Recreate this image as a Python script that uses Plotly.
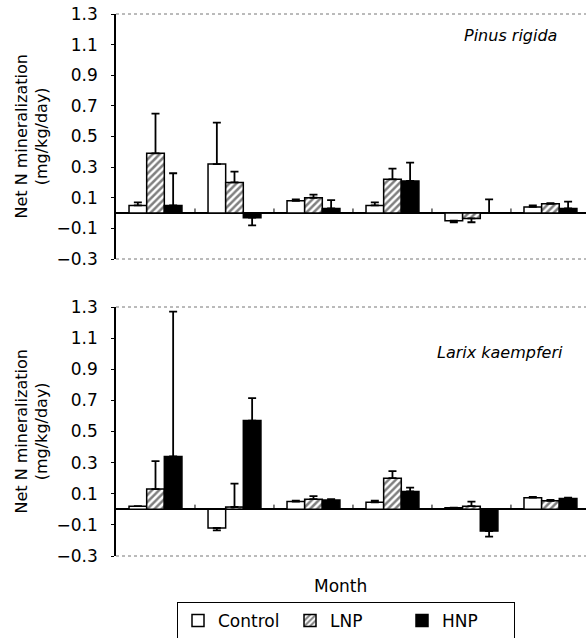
import plotly.graph_objects as go

months = [1, 2, 3, 4, 5, 6]
series = ["Control", "LNP", "HNP"]

# Pinus rigida (top panel)
pinus_control = [0.05, 0.32, 0.08, 0.05, -0.05, 0.04]
pinus_control_err = [0.02, 0.27, 0.01, 0.02, 0.01, 0.01]
pinus_lnp = [0.39, 0.20, 0.10, 0.22, -0.035, 0.06]
pinus_lnp_err = [0.26, 0.07, 0.02, 0.07, 0.025, 0.005]
pinus_hnp = [0.05, -0.03, 0.03, 0.21, 0.0, 0.03]
pinus_hnp_err = [0.21, 0.05, 0.055, 0.12, 0.09, 0.045]

# Larix kaempferi (bottom panel)
larix_control = [0.02, -0.12, 0.05, 0.045, 0.01, 0.075]
larix_control_err = [0.0, 0.015, 0.005, 0.01, 0.0, 0.005]
larix_lnp = [0.13, 0.015, 0.065, 0.20, 0.02, 0.055]
larix_lnp_err = [0.18, 0.15, 0.02, 0.045, 0.03, 0.005]
larix_hnp = [0.34, 0.57, 0.06, 0.115, -0.14, 0.07]
larix_hnp_err = [0.93, 0.145, 0.005, 0.025, 0.035, 0.005]

y_ticks = [-0.3, -0.1, 0.1, 0.3, 0.5, 0.7, 0.9, 1.1, 1.3]

FONT = "DejaVu Sans"
W, H = 586, 638

styles = {
    "Control": dict(color="white", pattern=None),
    "LNP": dict(color="white", pattern=dict(shape="/", fgcolor="black", bgcolor="white", size=5, solidity=0.5)),
    "HNP": dict(color="black", pattern=None),
}

panels = [
    ("x", "y", [pinus_control, pinus_lnp, pinus_hnp],
     [pinus_control_err, pinus_lnp_err, pinus_hnp_err]),
    ("x2", "y2", [larix_control, larix_lnp, larix_hnp],
     [larix_control_err, larix_lnp_err, larix_hnp_err]),
]

fig = go.Figure()
for pi, (xa, ya, vals, errs) in enumerate(panels):
    for name, v, e in zip(series, vals, errs):
        up = [ee if vv >= 0 else 0 for vv, ee in zip(v, e)]
        dn = [ee if vv < 0 else 0 for vv, ee in zip(v, e)]
        st = styles[name]
        marker = dict(color=st["color"], line=dict(color="black", width=1.5))
        if st["pattern"]:
            marker["pattern"] = st["pattern"]
        fig.add_trace(go.Bar(
            x=months, y=v, name=name, xaxis=xa, yaxis=ya,
            marker=marker, showlegend=(pi == 0), legendgroup=name,
            error_y=dict(type="data", symmetric=False, array=up, arrayminus=dn,
                         color="black", thickness=1.8, width=4),
        ))

x0 = 116 / W
top_dom = [(H - 259) / H, (H - 14) / H]
bot_dom = [(H - 556) / H, (H - 307) / H]

xcommon = dict(range=[0.5, 6.45], showticklabels=False, showline=False,
               showgrid=False, zeroline=False, ticks="", domain=[x0, 1])
ycommon = dict(range=[-0.3, 1.3], tickvals=y_ticks, ticktext=[f"{t:.1f}".replace("-", "\u2212") for t in y_ticks],
               showgrid=False, showline=True, linecolor="black", linewidth=1.5,
               ticks="outside", ticklen=3, tickcolor="black",
               zeroline=True, zerolinecolor="black", zerolinewidth=1.5,
               tickfont=dict(family=FONT, size=17, color="black"),
               ticklabelstandoff=10, automargin=False)

fig.update_layout(
    width=W, height=H,
    margin=dict(l=0, r=0, t=0, b=0, autoexpand=False),
    paper_bgcolor="white", plot_bgcolor="white",
    barmode="group", bargap=0.33, bargroupgap=0,
    font=dict(family=FONT, size=16, color="black"),
    xaxis=dict(**xcommon, anchor="y"),
    yaxis=dict(**ycommon, domain=top_dom, anchor="x"),
    xaxis2=dict(**xcommon, anchor="y2"),
    yaxis2=dict(**ycommon, domain=bot_dom, anchor="x2"),
    legend=dict(orientation="h", x=177 / W, y=1 - 602 / H, xanchor="left", yanchor="top",
                bordercolor="black", borderwidth=1, font=dict(family=FONT, size=17),
                entrywidth=67, itemwidth=30, traceorder="normal"),
)

# frame lines (top/bottom of each panel) and small category ticks on zero line
for xa, ya in [("x", "y"), ("x2", "y2")]:
    for yy in (0, 1):
        fig.add_shape(type="line", xref=f"{xa} domain", yref=f"{ya} domain",
                      x0=0, x1=1, y0=yy, y1=yy,
                      line=dict(color="#777", width=1, dash="dot"))
    for i in range(len(months)):
        fig.add_shape(type="line", xref=xa, yref=ya,
                      x0=months[i] + 0.5, x1=months[i] + 0.5, y0=0, y1=0.03,
                      line=dict(color="black", width=1))

ann = dict(xref="paper", yref="paper", showarrow=False, xanchor="center", yanchor="middle")

# species labels
fig.add_annotation(text="<i>Pinus rigida</i>", x=510 / W, y=1 - 35 / H,
                   font=dict(family=FONT, size=16), **ann)
fig.add_annotation(text="<i>Larix kaempferi</i>", x=500 / W, y=1 - 352 / H,
                   font=dict(family=FONT, size=16), **ann)

# y-axis titles
for dom in (top_dom, bot_dom):
    fig.add_annotation(text="Net N mineralization<br>(mg/kg/day)",
                       x=31 / W, y=(dom[0] + dom[1]) / 2, textangle=-90,
                       font=dict(family=FONT, size=16), **ann)

# x-axis title
fig.add_annotation(text="Month", x=340 / W, y=1 - 586 / H,
                   font=dict(family=FONT, size=17), **ann)

fig.write_html("out.html")
